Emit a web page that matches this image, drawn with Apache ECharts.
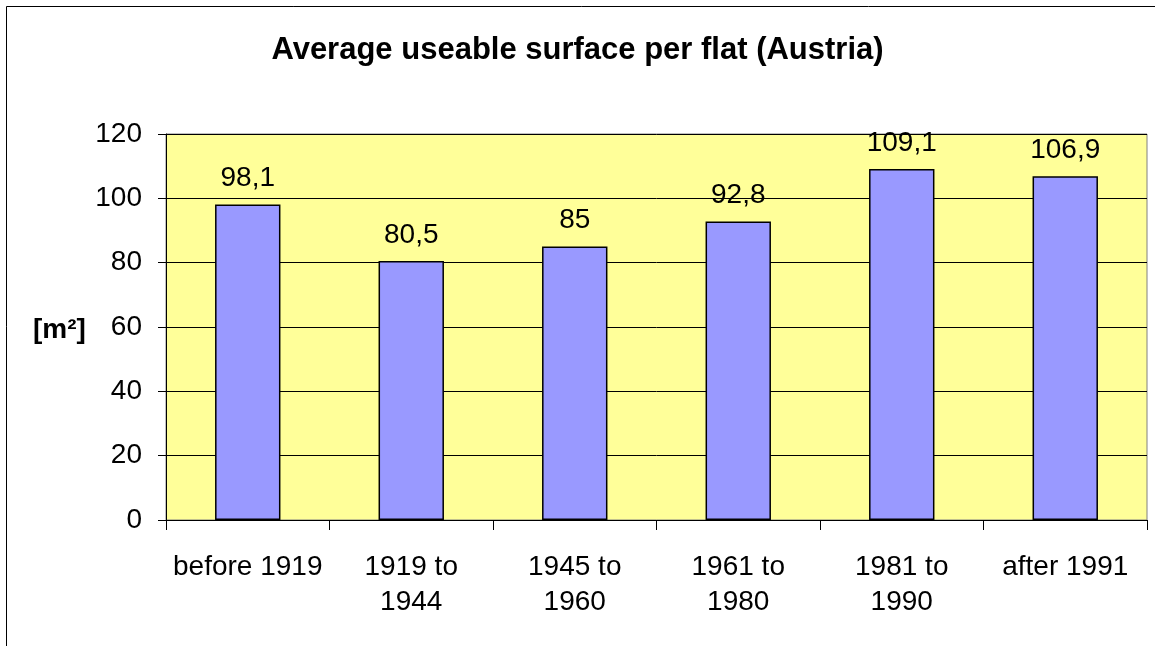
<!DOCTYPE html>
<html>
<head>
<meta charset="utf-8">
<script src="https://cdn.jsdelivr.net/npm/echarts@6/dist/echarts.min.js"></script>
<style>
  html, body { margin: 0; padding: 0; background: #fff; }
  #chart { width: 1155px; height: 646px; }
</style>
</head>
<body>
<div id="chart"></div>
<script>
// Construction periods and average useable surface per flat (m²)
const categories = ['before 1919', '1919 to\n1944', '1945 to\n1960', '1961 to\n1980', '1981 to\n1990', 'after 1991'];
const surface = [98.1, 80.5, 85, 92.8, 109.1, 106.9];
const yTicks = [0, 20, 40, 60, 80, 100, 120];

const font = '"Liberation Sans", Arial, sans-serif';
const chart = echarts.init(document.getElementById('chart'));

chart.setOption({
  backgroundColor: '#ffffff',
  animation: false,
  title: {
    text: 'Average useable surface per flat (Austria)',
    left: 'center',
    top: 30,
    textStyle: { fontFamily: font, fontSize: 31, fontWeight: 'bold', color: '#000' }
  },
  graphic: [{
    type: 'rect',
    shape: { x: 6.5, y: 6.5, width: 1300, height: 800 },
    style: { fill: 'none', stroke: '#000', lineWidth: 1 },
    silent: true
  }, {
    type: 'text',
    left: 33,
    top: 316,
    style: { text: '[m²]', font: 'bold 28px ' + font, fill: '#000' }
  }],
  grid: {
    left: 166, right: 8, top: 134, bottom: 126,
    show: true,
    backgroundColor: '#FFFF99',
    borderColor: '#808080',
    borderWidth: 1
  },
  xAxis: {
    type: 'category',
    data: categories,
    axisLine: { lineStyle: { color: '#000', width: 1 } },
    axisTick: { show: true, interval: 0, length: 10, alignWithLabel: false, lineStyle: { color: '#000' } },
    axisLabel: { interval: 0, fontFamily: font, fontSize: 28, color: '#000', margin: 30, lineHeight: 35 }
  },
  yAxis: {
    type: 'value',
    min: yTicks[0],
    max: yTicks[yTicks.length - 1],
    interval: 20,
    axisLine: { show: true, lineStyle: { color: '#000', width: 1 } },
    axisTick: { show: true, length: 8, lineStyle: { color: '#000' } },
    axisLabel: { fontFamily: font, fontSize: 28, color: '#000', margin: 24 },
    splitLine: { show: true, lineStyle: { color: '#000', width: 1 } }
  },
  series: [{
    type: 'bar',
    data: surface,
    barWidth: '40%',
    itemStyle: { color: '#9999FF', borderColor: '#000', borderWidth: 1.5 },
    label: {
      show: true,
      position: 'top',
      distance: 12,
      fontFamily: font,
      fontSize: 28,
      color: '#000',
      formatter: p => String(p.value).replace('.', ',')
    }
  }]
});
</script>
</body>
</html>
